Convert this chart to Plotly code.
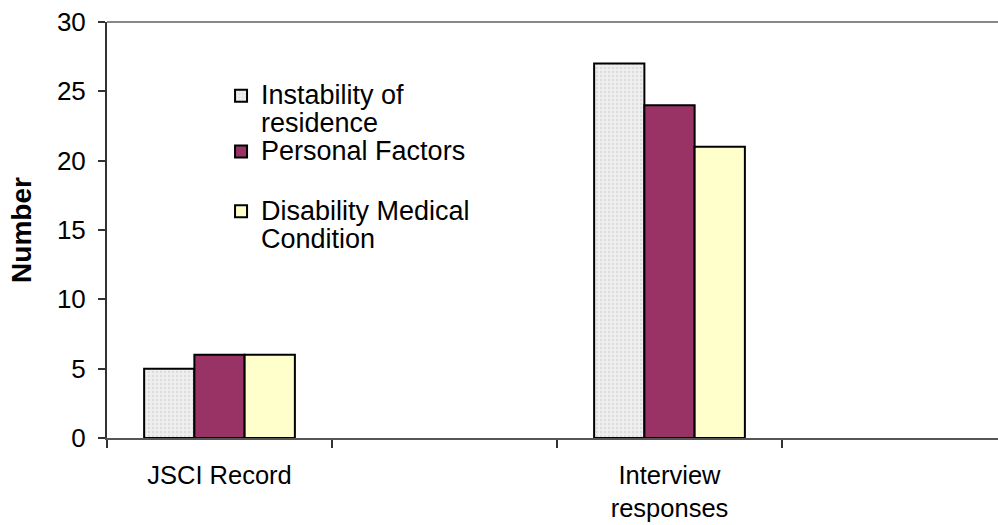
import plotly.graph_objects as go

categories = ["JSCI Record", " ", "Interview<br>responses", "  "]
series_names = [["Instability of", "residence"], ["Personal Factors"], ["Disability Medical", "Condition"]]
instability = [5, None, 27, None]
personal = [6, None, 24, None]
disability = [6, None, 21, None]
y_ticks = [0, 5, 10, 15, 20, 25, 30]

FONT = "Liberation Sans, Arial, sans-serif"


def big(lines, px=27):
    return "<br>".join(f'<span style="font-size:{px}px">{ln}</span>' for ln in lines)


fig = go.Figure()
fig.add_trace(go.Bar(
    x=categories, y=instability, name=big(series_names[0]), legend="legend",
    marker=dict(color="#EBEBEB", line=dict(color="black", width=2),
                pattern=dict(shape=".", fgcolor="#C8C8C8", bgcolor="#EFEFEF", size=4, solidity=0.3))))
fig.add_trace(go.Bar(
    x=categories, y=personal, name=big(series_names[1]), legend="legend2",
    marker=dict(color="#993366", line=dict(color="black", width=2))))
fig.add_trace(go.Bar(
    x=categories, y=disability, name=big(series_names[2]), legend="legend3",
    marker=dict(color="#FFFFCC", line=dict(color="black", width=2))))

leg_common = dict(x=0.128, xanchor="left", yanchor="top", bgcolor="rgba(0,0,0,0)",
                  valign="top", font=dict(family=FONT, size=21.5, color="black"))

fig.update_layout(
    width=998, height=525,
    margin=dict(l=107, r=0, t=22, b=87),
    paper_bgcolor="white", plot_bgcolor="white",
    barmode="group", bargap=0.33, bargroupgap=0,
    font=dict(family=FONT, size=26, color="black"),
    showlegend=True,
    legend=dict(y=0.872, **leg_common),
    legend2=dict(y=0.738, **leg_common),
    legend3=dict(y=0.594, **leg_common),
    xaxis=dict(type="category", categoryorder="array", categoryarray=categories,
               range=[-0.5, 3.46], tickson="boundaries", ticks="outside", ticklen=8,
               tickcolor="#333333", tickwidth=1.5, ticklabelstandoff=13, automargin=False,
               showline=True, linecolor="#555555", linewidth=2, showgrid=False,
               tickfont=dict(family=FONT, size=25.5, color="black")),
    yaxis=dict(range=[0, 30], tickvals=y_ticks, ticks="outside", ticklen=7,
               tickcolor="#333333", tickwidth=1.5, ticklabelstandoff=7, automargin=False,
               showline=True, linecolor="#333333", linewidth=2, showgrid=False,
               zeroline=False,
               tickfont=dict(family=FONT, size=26, color="black"),
               title=dict(text="<b>Number</b>", font=dict(family=FONT, size=28, color="black"),
                          standoff=17)),
    shapes=[dict(type="line", xref="paper", yref="paper", x0=0, x1=1, y0=1, y1=1,
                 line=dict(color="#888888", width=2))],
)

fig.write_html("out.html", config={"displayModeBar": False},
               post_script="document.body.style.margin='0';document.body.style.overflow='hidden';")
